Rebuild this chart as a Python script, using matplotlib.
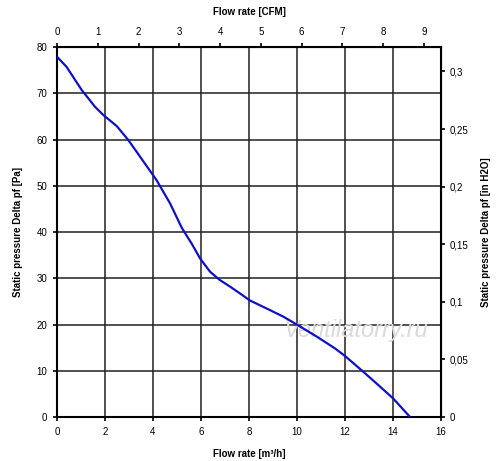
import matplotlib.pyplot as plt
import numpy as np

plt.rcParams['font.family'] = ['Liberation Sans', 'DejaVu Sans']

# fan curve
flow_m3h = [0.0, 0.4, 1.03, 1.58, 1.93, 2.49, 2.97, 3.46, 4.15, 4.71, 5.2, 5.61, 5.96,
            6.38, 6.79, 7.21, 7.63, 8.04, 8.88, 9.43, 9.99, 10.82, 11.58, 12.0,
            12.76, 13.39, 14.01, 14.71]
pressure_pa = [77.9, 75.7, 70.7, 67.1, 65.3, 62.9, 59.9, 56.3, 51.2, 46.2, 40.9, 37.5, 34.3,
               31.4, 29.6, 28.2, 26.7, 25.2, 23.1, 21.7, 20.0, 17.4, 14.85, 13.2,
               9.8, 6.9, 4.0, 0.0]

x_ticks = [0, 2, 4, 6, 8, 10, 12, 14, 16]
y_ticks = [0, 10, 20, 30, 40, 50, 60, 70, 80]
cfm_ticks = [0, 1, 2, 3, 4, 5, 6, 7, 8, 9]
inh2o_ticks = [0, 0.05, 0.1, 0.15, 0.2, 0.25, 0.3]

M3H_PER_CFM = 1.699
PA_PER_INH2O = 249.09

fig = plt.figure(figsize=(5, 4.61), dpi=100)
ax = fig.add_axes([0.114, 0.0954, 0.768, 0.8026])

ax.plot(flow_m3h, pressure_pa, color='#1010c8', lw=1.6, zorder=3)

ax.set_xlim(0, 16)
ax.set_ylim(0, 80)
ax.set_xticks(x_ticks)
ax.set_yticks(y_ticks)
ax.grid(True, color='#202020', lw=1.1)
for s in ax.spines.values():
    s.set_linewidth(1.5)
ax.tick_params(labelsize=7, length=3, width=1.2, pad=4)
ax.set_xlabel('Flow rate [m³/h]', fontsize=7, fontweight='bold', labelpad=9)
ax.set_ylabel('Static pressure Delta pf [Pa]', fontsize=7, fontweight='bold', labelpad=10)

top = ax.secondary_xaxis('top', functions=(lambda v: v / M3H_PER_CFM, lambda v: v * M3H_PER_CFM))
top.set_xticks(cfm_ticks)
top.tick_params(labelsize=7, length=3, width=1.2, pad=4)
top.set_xlabel('Flow rate [CFM]', fontsize=7, fontweight='bold', labelpad=9)

right = ax.secondary_yaxis('right', functions=(lambda v: v / PA_PER_INH2O, lambda v: v * PA_PER_INH2O))
right.set_yticks(inh2o_ticks)
right.set_yticklabels([('%g' % t).replace('.', ',') for t in inh2o_ticks])
right.tick_params(labelsize=7, length=3, width=1.2, pad=3)
right.set_ylabel('Static pressure Delta pf [in H2O]', fontsize=7, fontweight='bold', labelpad=9)

ax.text(12.45, 18.8, 'Ventilatorry.ru', fontsize=17, style='italic', color='#dadada',
        ha='center', va='center', zorder=2)

fig.savefig('out.png', dpi=100)
